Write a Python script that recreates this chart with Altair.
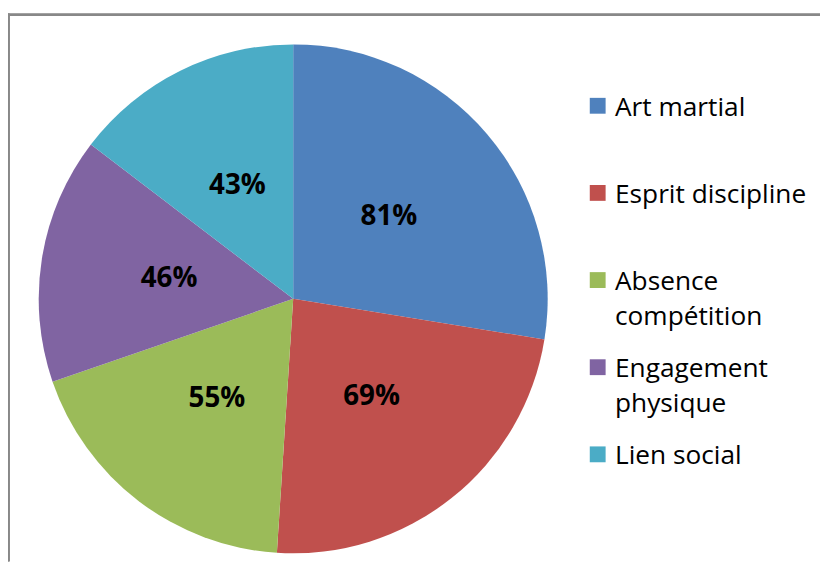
import altair as alt
import pandas as pd

categories = ["Art martial", "Esprit discipline", "Absence compétition", "Engagement physique", "Lien social"]
values = [81, 69, 55, 46, 43]
legend_labels = ["Art martial", "Esprit discipline", "Absence\ncompétition", "Engagement\nphysique", "Lien social"]
colors = ["#4F81BD", "#C0504D", "#9BBB59", "#8064A2", "#4BACC6"]

df = pd.DataFrame({
    "cat": categories,
    "value": values,
    "legend": legend_labels,
    "idx": list(range(len(categories))),
})
df["pct"] = [f"{v}%" for v in values]

CX, CY, R = 288, 291, 257
FONT = "Open Sans"
LFS = 26.5
W, H = 820, 556

base = alt.Chart(df)

color = alt.Color("cat:N", scale=alt.Scale(domain=categories, range=colors), legend=None)
theta = alt.Theta("value:Q", stack=True)
order = alt.Order("idx:Q")

pie = base.mark_arc(radius=R).encode(
    theta=theta, color=color, order=order,
    x=alt.value(CX), y=alt.value(CY),
)

pct = base.mark_text(radius=127, font=FONT, fontSize=28, fontWeight="bold", color="black").encode(
    theta=theta, order=order, text="pct:N",
    x=alt.value(CX), y=alt.value(CY),
)

ly = alt.Y("cat:N", scale=alt.Scale(domain=categories, range=[96, 448], padding=0), axis=None)

leg_sq = base.mark_square(size=256, opacity=1).encode(
    y=ly, x=alt.value(595.5), color=color,
)
leg_txt = base.mark_text(align="left", baseline="top", dy=10 - 0.79 * LFS, font=FONT, fontSize=LFS,
                         lineBreak="\n", lineHeight=35, color="black").encode(
    y=ly, x=alt.value(613), text="legend:N",
)

border_top = base.mark_rule(color="#888888", strokeWidth=2).encode(
    x=alt.value(0), x2=alt.value(W), y=alt.value(4)
)
border_left = base.mark_rule(color="#888888", strokeWidth=2).encode(
    x=alt.value(0.5), y=alt.value(3), y2=alt.value(H)
)

chart = alt.layer(border_top, border_left, pie, pct, leg_sq, leg_txt).properties(
    width=W, height=H,
    autosize=alt.AutoSizeParams(type="none"),
    padding=0,
).configure_view(stroke=None)

chart.save("out.html", embed_options={"renderer": "svg", "actions": False})
